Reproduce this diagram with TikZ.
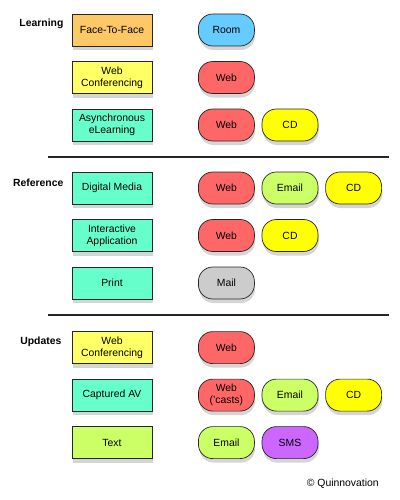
\documentclass[tikz,border=0pt]{standalone}
\usepackage{fontspec}
\setmainfont{Liberation Sans}
\usepackage{xcolor}
\usetikzlibrary{positioning, calc, shadows}
\definecolor{qorange}{HTML}{FFC866}
\definecolor{qyellow}{HTML}{FFFF66}
\definecolor{qaqua}{HTML}{66FFCC}
\definecolor{qlime}{HTML}{CCFF66}
\definecolor{qblue}{HTML}{66CCFF}
\definecolor{qred}{HTML}{FF6666}
\definecolor{qcd}{HTML}{FFFF00}
\definecolor{qgray}{HTML}{CCCCCC}
\definecolor{qpurple}{HTML}{CC66FF}
\newcommand{\txt}{\fontsize{7.4}{8.3}\selectfont}

\begin{document}
\begin{tikzpicture}[
    mode/.style={minimum width=2.0cm, minimum height=0.8cm, draw=black!85, line width=0.5pt,
                 font=\txt, align=center, inner sep=1pt,
                 drop shadow={shadow xshift=0.02cm, shadow yshift=-0.1cm, opacity=0.33}},
    channel/.style={mode, minimum width=1.4cm, rounded corners=0.36cm},
    web/.style={channel, fill=qred},
    email/.style={channel, fill=qlime},
    cd/.style={channel, fill=qcd},
    seclabel/.style={font=\txt\bfseries, anchor=east, inner sep=0pt},
    sepline/.style={line width=1.2pt, black!85},
  ]
  \useasboundingbox (0,0) rectangle (10,-12.5);

  \def\boxx{2.8}     % centre of the left column
  \def\pillx{5.66}   % centre of the first channel column
  \def\colw{1.59}    % pitch between channel columns
  \def\rowh{1.1875}  % vertical pitch between rows

  % --- Learning ---
  \def\ry{-0.75}
  \node[mode, fill=qorange] (l1) at (\boxx,\ry) {Face-To-Face};
  \node[channel, fill=qblue] (l1a) at (\pillx,\ry) {Room};
  \node[mode, fill=qyellow] (l2) at (\boxx,\ry-\rowh) {Web\\Conferencing};
  \node[web] (l2a) at (\pillx,\ry-\rowh) {Web};
  \node[mode, fill=qaqua] (l3) at (\boxx,\ry-2*\rowh) {Asynchronous\\eLearning};
  \node[web] (l3a) at (\pillx,\ry-2*\rowh) {Web};
  \node[cd]  (l3b) at (\pillx+\colw,\ry-2*\rowh) {CD};
  \node[seclabel] (learn) at ($(l1.west)+(-0.2,0.15)$) {Learning};

  \draw[sepline] (1.2,-3.92) -- (9.72,-3.92);

  % --- Reference ---
  \def\ry{-4.7}
  \node[mode, fill=qaqua] (r1) at (\boxx,\ry) {Digital Media};
  \node[web]   (r1a) at (\pillx,\ry) {Web};
  \node[email] (r1b) at (\pillx+\colw,\ry) {Email};
  \node[cd]    (r1c) at (\pillx+2*\colw,\ry) {CD};
  \node[mode, fill=qaqua] (r2) at (\boxx,\ry-\rowh) {Interactive\\Application};
  \node[web]   (r2a) at (\pillx,\ry-\rowh) {Web};
  \node[cd]    (r2b) at (\pillx+\colw,\ry-\rowh) {CD};
  \node[mode, fill=qaqua] (r3) at (\boxx,\ry-2*\rowh) {Print};
  \node[channel, fill=qgray] (r3a) at (\pillx,\ry-2*\rowh) {Mail};
  \node[seclabel] (refer) at ($(r1.west)+(-0.2,0.13)$) {Reference};

  \draw[sepline] (1.2,-7.875) -- (9.72,-7.875);

  % --- Updates ---
  \def\ry{-8.69}
  \node[mode, fill=qyellow] (u1) at (\boxx,\ry) {Web\\Conferencing};
  \node[web]   (u1a) at (\pillx,\ry) {Web};
  \node[mode, fill=qaqua] (u2) at (\boxx,\ry-\rowh) {Captured AV};
  \node[web]   (u2a) at (\pillx,\ry-\rowh) {Web\\('casts)};
  \node[email] (u2b) at (\pillx+\colw,\ry-\rowh) {Email};
  \node[cd]    (u2c) at (\pillx+2*\colw,\ry-\rowh) {CD};
  \node[mode, fill=qlime] (u3) at (\boxx,\ry-2*\rowh) {Text};
  \node[email] (u3a) at (\pillx,\ry-2*\rowh) {Email};
  \node[channel, fill=qpurple] (u3b) at (\pillx+\colw,\ry-2*\rowh) {SMS};
  \node[seclabel] (updat) at ($(u1.west)+(-0.25,0.14)$) {Updates};

  % --- credit ---
  \node[font=\txt, anchor=east, inner sep=0pt] (credit) at (9.475,-12.1) {© Quinnovation};

\end{tikzpicture}
\end{document}
